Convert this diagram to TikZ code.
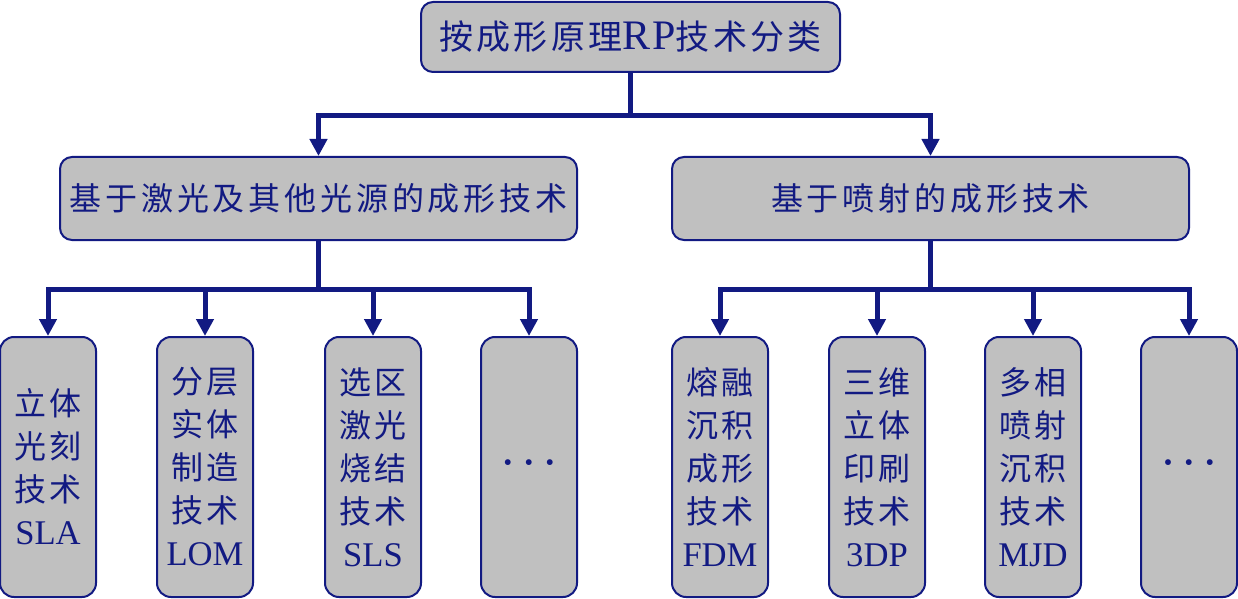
\documentclass[tikz,border=0pt]{standalone}
\usepackage{fontspec}
\setmainfont{Liberation Serif}
\newfontfamily\cjk[LetterSpace=12]{Noto Sans CJK SC}
\newfontfamily\cjktop[LetterSpace=9]{Noto Sans CJK SC}
\newfontfamily\latintop[LetterSpace=6]{Liberation Serif}
\usetikzlibrary{arrows.meta}
\newcommand\zh[1]{{\cjk #1}}
\newcommand\lat[1]{{\fontsize{17.3}{21.5}\selectfont #1}}
\definecolor{navy}{RGB}{18,26,130}
\definecolor{boxgray}{RGB}{192,192,192}
\tikzset{
  box/.style={draw=navy, line width=1pt, fill=boxgray, rounded corners=6pt,
    text=navy, inner sep=0pt, align=center},
  topbox/.style={box, minimum width=209.5pt, minimum height=35pt, font=\fontsize{17}{22}\selectfont},
  midbox/.style={box, minimum width=258.5pt, minimum height=41.5pt, font=\fontsize{16}{20}\selectfont},
  leaf/.style={box, minimum width=48pt, minimum height=130pt, rounded corners=7pt, font=\fontsize{16}{21.5}\selectfont},
  conn/.style={draw=navy, line width=2.5pt, -{Triangle[width=8.5pt,length=8.5pt]}},
  trunk/.style={draw=navy, line width=2.5pt}
}
\begin{document}
\begin{tikzpicture}[x=0.5pt,y=-0.5pt]
\useasboundingbox (0,0) rectangle (1238,599);
\node[topbox] (top) at (630.5,37) {{\cjktop 按成形原理}{\latintop\fontsize{21}{22}\selectfont RP}{\cjktop 技术分类}};
\node[midbox] (m1) at (318.5,198.5) {\zh{基于激光及其他光源的成形技术}};
\node[midbox] (m2) at (930.5,198.5) {\zh{基于喷射的成形技术}};
\node[leaf] (a1) at (48,467) {\zh{立体}\\\zh{光刻}\\\zh{技术}\\\lat{SLA}};
\node[leaf] (a2) at (205,467) {\zh{分层}\\\zh{实体}\\\zh{制造}\\\zh{技术}\\\lat{LOM}};
\node[leaf] (a3) at (373,467) {\zh{选区}\\\zh{激光}\\\zh{烧结}\\\zh{技术}\\\lat{SLS}};
\node[leaf] (a4) at (529,467) {{\fontsize{18}{18}\selectfont\bfseries · · ·}};
\node[leaf] (b1) at (720,467) {\zh{熔融}\\\zh{沉积}\\\zh{成形}\\\zh{技术}\\\lat{FDM}};
\node[leaf] (b2) at (877,467) {\zh{三维}\\\zh{立体}\\\zh{印刷}\\\zh{技术}\\\lat{3DP}};
\node[leaf] (b3) at (1033,467) {\zh{多相}\\\zh{喷射}\\\zh{沉积}\\\zh{技术}\\\lat{MJD}};
\node[leaf] (b4) at (1189,467) {{\fontsize{18}{18}\selectfont\bfseries · · ·}};
\coordinate (j0) at (630.5,116);
\coordinate (j1) at (318.5,289);
\coordinate (j2) at (930.5,289);
\draw[trunk] (top.south) -- (j0);
\draw[conn] (j0) -| (m1.north);
\draw[conn] (j0) -| (m2.north);
\draw[trunk] (m1.south) -- (j1);
\draw[trunk] (m2.south) -- (j2);
\foreach \n in {a1,a2,a3,a4} \draw[conn] (j1) -| (\n.north);
\foreach \n in {b1,b2,b3,b4} \draw[conn] (j2) -| (\n.north);
\end{tikzpicture}
\end{document}
